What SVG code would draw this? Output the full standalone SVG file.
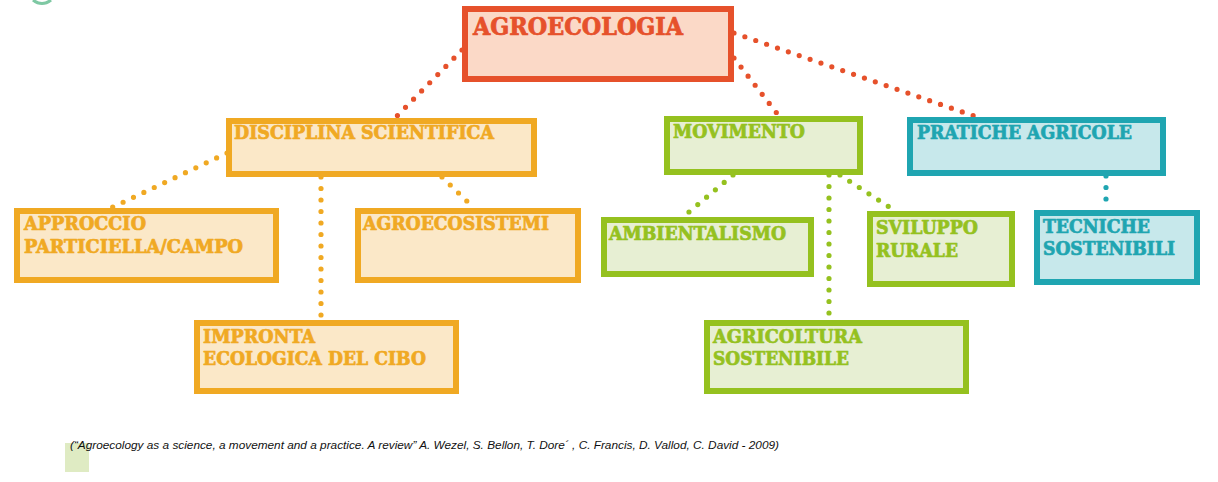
<svg xmlns="http://www.w3.org/2000/svg" width="1218" height="482" viewBox="0 0 1218 482">
<style>
.box{stroke-width:6}
.red{fill:#fbd9c7;stroke:#e6512b}
.org{fill:#fbe8c8;stroke:#f0a923}
.grn{fill:#e7efd3;stroke:#95c11f}
.tea{fill:#c7e8eb;stroke:#1fa5b1}
.t{font-family:"DejaVu Serif Condensed","DejaVu Serif","Noto Serif","Liberation Serif",serif;font-weight:bold;font-size:19px;stroke-width:0.7;stroke-linejoin:round}
.tr{fill:#e6512b;stroke:#e6512b}.to{fill:#f0a923;stroke:#f0a923}.tg{fill:#95c11f;stroke:#95c11f}.tt{fill:#1fa5b1;stroke:#1fa5b1}
.c{fill:none;stroke-width:5.2;stroke-linecap:round;stroke-dasharray:0 11.5}
.cr{stroke:#e6512b}.co{stroke:#f0a923}.cg{stroke:#95c11f}.ct{stroke:#1fa5b1}
.cite{font-family:"Liberation Sans",Arial,sans-serif;font-style:italic;font-size:10.5px;fill:#111}
</style>
<rect width="1218" height="482" fill="#ffffff"/>
<path d="M33 0 Q42 7 51 0" fill="none" stroke="#7ec8a3" stroke-width="3"/>
<g id="connectors">
<line class="c cr" x1="462" y1="50" x2="395" y2="118"/>
<line class="c cr" x1="734" y1="58" x2="779" y2="116"/>
<line class="c cr" x1="734" y1="33" x2="977" y2="117"/>
<line class="c co" x1="227" y1="153" x2="111" y2="208"/>
<line class="c co" x1="321" y1="177" x2="321" y2="320"/>
<line class="c co" x1="442" y1="177" x2="474" y2="208"/>
<line class="c cg" x1="733" y1="175" x2="683" y2="217"/>
<line class="c cg" x1="829" y1="175" x2="829" y2="320"/>
<line class="c cg" x1="840" y1="175" x2="897" y2="212"/>
<line class="c ct" x1="1106" y1="176" x2="1106" y2="210"/>
</g>
<g id="agroecologia">
<rect class="box red" x="465" y="9" width="266" height="70"/>
<text class="t tr" x="473" y="35" style="font-size:24px" textLength="210" lengthAdjust="spacingAndGlyphs">AGROECOLOGIA</text>
</g>
<g id="disciplina">
<rect class="box org" x="229" y="121" width="305" height="53"/>
<text class="t to" x="234" y="139" textLength="260" lengthAdjust="spacingAndGlyphs">DISCIPLINA SCIENTIFICA</text>
</g>
<g id="movimento">
<rect class="box grn" x="667" y="119" width="193" height="53"/>
<text class="t tg" x="673" y="138" textLength="132" lengthAdjust="spacingAndGlyphs">MOVIMENTO</text>
</g>
<g id="pratiche">
<rect class="box tea" x="910" y="120" width="253" height="53"/>
<text class="t tt" x="917" y="139" textLength="215" lengthAdjust="spacingAndGlyphs">PRATICHE AGRICOLE</text>
</g>
<g id="approccio">
<rect class="box org" x="17" y="211" width="259" height="69"/>
<text class="t to" x="24" y="230" textLength="122" lengthAdjust="spacingAndGlyphs">APPROCCIO</text>
<text class="t to" x="24" y="253" textLength="219" lengthAdjust="spacingAndGlyphs">PARTICIELLA/CAMPO</text>
</g>
<g id="agroecosistemi">
<rect class="box org" x="358" y="211" width="220" height="69"/>
<text class="t to" x="363" y="230" textLength="186" lengthAdjust="spacingAndGlyphs">AGROECOSISTEMI</text>
</g>
<g id="impronta">
<rect class="box org" x="197" y="323" width="259" height="68"/>
<text class="t to" x="203" y="343" textLength="112" lengthAdjust="spacingAndGlyphs">IMPRONTA</text>
<text class="t to" x="203" y="365" textLength="223" lengthAdjust="spacingAndGlyphs">ECOLOGICA DEL CIBO</text>
</g>
<g id="ambientalismo">
<rect class="box grn" x="604" y="220" width="207" height="54"/>
<text class="t tg" x="609" y="240" textLength="177" lengthAdjust="spacingAndGlyphs">AMBIENTALISMO</text>
</g>
<g id="sviluppo">
<rect class="box grn" x="870" y="214" width="142" height="70"/>
<text class="t tg" x="876" y="234" textLength="102" lengthAdjust="spacingAndGlyphs">SVILUPPO</text>
<text class="t tg" x="876" y="257" textLength="82" lengthAdjust="spacingAndGlyphs">RURALE</text>
</g>
<g id="tecniche">
<rect class="box tea" x="1037" y="213" width="160" height="69"/>
<text class="t tt" x="1043" y="233" textLength="107" lengthAdjust="spacingAndGlyphs">TECNICHE</text>
<text class="t tt" x="1043" y="255" textLength="132" lengthAdjust="spacingAndGlyphs">SOSTENIBILI</text>
</g>
<g id="agricoltura">
<rect class="box grn" x="707" y="323" width="259" height="68"/>
<text class="t tg" x="713" y="343" textLength="149" lengthAdjust="spacingAndGlyphs">AGRICOLTURA</text>
<text class="t tg" x="713" y="365" textLength="136" lengthAdjust="spacingAndGlyphs">SOSTENIBILE</text>
</g>
<rect x="65" y="443" width="24" height="29" fill="#dfebc3"/>
<text class="cite" x="70" y="449" textLength="709" lengthAdjust="spacingAndGlyphs">(“Agroecology as a science, a movement and a practice. A review” A. Wezel, S. Bellon, T. Dore´ , C. Francis, D. Vallod, C. David - 2009)</text>
</svg>
